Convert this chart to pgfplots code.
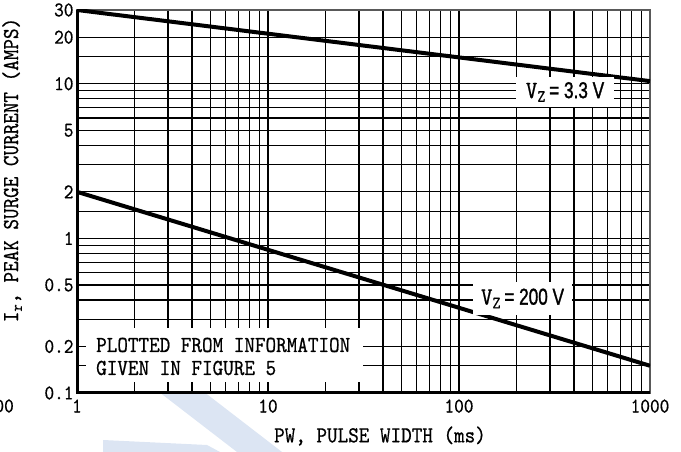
\documentclass[border=0pt]{standalone}
\usepackage{fontspec}
\usepackage{pgfplots}
\pgfplotsset{compat=1.18}
\newfontfamily\cnfont{lmmono10-regular.otf}[FakeStretch=0.88, FakeBold=0.6]
\newfontfamily\hvfont{Liberation Sans}[FakeStretch=0.75, FakeBold=1.2]
\definecolor{wmblue}{RGB}{220,229,243}
\newcommand\tickfont{\cnfont\fontsize{21}{21}\selectfont}
\newcommand\labfont{\cnfont\fontsize{23}{23}\selectfont}

\begin{document}
\begin{tikzpicture}[x=1bp,y=1bp]
\useasboundingbox (0,0) rectangle (681,452);
% faint watermark behind the chart
\fill[wmblue] (150,67) -- (195,67) -- (282,0) -- (237,0) -- cycle;
\fill[wmblue] (103,12) -- (207,7) -- (220,0) -- (103,0) -- cycle;
\begin{axis}[
    at={(77bp,59bp)}, anchor=south west,
    scale only axis, width=573bp, height=383bp,
    xmode=log, ymode=log,
    xmin=1, xmax=1000, ymin=0.1, ymax=30,
    xtick={1,10,100,1000},
    xticklabels={1,10,100,1000},
    minor xtick={2,3,4,5,6,7,8,9,20,30,40,50,60,70,80,90,200,300,400,500,600,700,800,900},
    ytick={0.1,0.2,0.5,1,2,5,10,20,30},
    yticklabels={0.1,0.2,0.5,1,2,5,10,20,30},
    minor ytick={0.15,0.3,0.4,0.6,0.7,0.8,0.9,1.5,3,4,6,7,8,9,15},
    grid=both,
    major grid style={black, line width=1.3bp},
    minor grid style={black, line width=1.3bp},
    major tick length=0, minor tick length=0,
    axis line style={black!65, line width=1.5bp},
    tick label style={font=\tickfont},
    /pgf/number format/assume math mode=true,
    xticklabel style={yshift=-3bp},
    axis background/.style={fill=white},
]
\addplot[black, line width=4bp] coordinates {(1,30) (1000,10.4)};
\addplot[black, line width=4bp] coordinates {(1,2) (1000,0.15)};
\end{axis}
\draw[line width=3bp] (77,442) -- (77,59) -- (650,59);

% labels on the curves
\node[fill=white, minimum width=98, minimum height=30, inner sep=0] at (565,360)
    {{\cnfont\fontsize{25}{25}\selectfont V\textsubscript{Z}} {\hvfont\fontsize{23}{23}\selectfont = 3.3 V}};
\node[fill=white, minimum width=99, minimum height=33, inner sep=0] at (522.5,153.5)
    {{\cnfont\fontsize{25}{25}\selectfont V\textsubscript{Z}} {\hvfont\fontsize{23}{23}\selectfont = 200 V}};

% note box
\fill[white] (86,70) rectangle (363,124);
\node[anchor=base west, inner sep=0, font=\labfont] at (96,100) {PLOTTED FROM INFORMATION};
\node[anchor=base west, inner sep=0, font=\labfont] at (96,77) {GIVEN IN FIGURE 5};

% axis titles
\node[rotate=90, font=\labfont] at (12,282) {I\textsubscript{r}, PEAK SURGE CURRENT (AMPS)};
\node[font=\labfont] at (380,16) {PW, PULSE WIDTH (ms)};
\node[anchor=east, inner sep=0, font=\tickfont] at (14,46) {100};
\end{tikzpicture}
\end{document}
